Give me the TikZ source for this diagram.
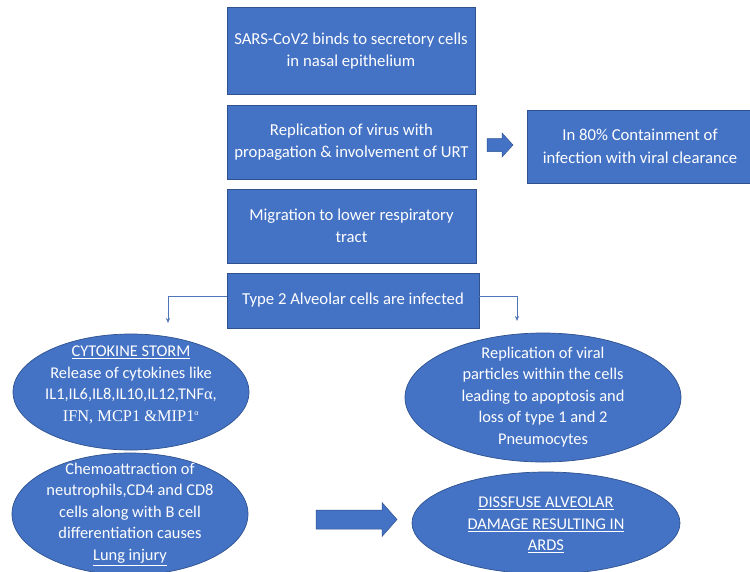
\documentclass[tikz,border=0pt]{standalone}
\usepackage{fontspec}
\setmainfont{Carlito}
\newfontfamily\tms{Liberation Serif}
\usetikzlibrary{arrows.meta,shapes.geometric}
\definecolor{ofblue}{HTML}{4472C4}
\definecolor{ofedge}{HTML}{2F528F}
\begin{document}
\begin{tikzpicture}[x=1pt,y=-1pt,
  boxst/.style={draw=ofedge,line width=0.7pt,fill=ofblue,text=white,inner sep=0pt,align=center,font=\fontsize{16.7}{22.5}\selectfont},
  ellst/.style={ellipse,draw=ofedge,line width=0.7pt,fill=ofblue,inner sep=0pt},
  txtst/.style={text=white,align=center,inner sep=0pt,font=\fontsize{16.4}{21.6}\selectfont},
  conn/.style={draw=ofblue!80!gray,line width=0.6pt,-{Stealth[length=5pt,width=4pt]}},
  fatarrow/.style={fill=ofblue,draw=ofedge,line width=0.5pt}]
\useasboundingbox[fill=white] (0,0) rectangle (750,571);
% boxes
\node[boxst,minimum width=248pt,minimum height=87pt] (b1) at (351,51) {SARS-CoV2 binds to secretory cells\\in nasal epithelium};
\node[boxst,minimum width=249pt,minimum height=74pt] (b2) at (351.5,142) {Replication of virus with\\propagation \& involvement of URT};
\node[boxst,minimum width=249pt,minimum height=74pt] (b3) at (351.5,226) {Migration to lower respiratory\\tract};
\node[boxst,minimum width=252pt,minimum height=55pt] (b4) at (353,300.5) {Type 2 Alveolar cells are infected};
\node[boxst,minimum width=226pt,minimum height=73pt] (b5) at (640,146.5) {In 80\% Containment of\\infection with viral clearance};
% small fat arrow
\coordinate (sa) at (487,145);
\path[fatarrow] (sa) ++(0,-6.5) -- ++(15,0) -- ++(0,-5.5) -- ++(11,12) -- ++(-11,12) -- ++(0,-5.5) -- ++(-15,0) -- cycle;
% ellipses
\node[ellst,minimum width=236pt,minimum height=116pt] (e1) at (131,392) {};
\node[txtst] (t1) at (131,385) {\underline{CYTOKINE STORM}\\Release of cytokines like\\IL1,IL6,IL8,IL10,IL12,TNF{\tms α},\\{\tms IFN, MCP1 \&MIP1\textsuperscript{\footnotesize α}}};
\node[ellst,minimum width=276pt,minimum height=129pt] (e3) at (543,397.5) {};
\node[txtst] (t3) at (543,397) {Replication of viral\\particles within the cells\\leading to apoptosis and\\loss of type 1 and 2\\Pneumocytes};
\node[ellst,minimum width=236pt,minimum height=122pt] (e2) at (130,514) {};
\node[txtst] (t2) at (130,514) {Chemoattraction of\\neutrophils,CD4 and CD8\\cells along with B cell\\differentiation causes\\\underline{Lung injury}};
\node[ellst,minimum width=268pt,minimum height=102pt] (e4) at (546,523) {};
\node[txtst] (t4) at (546,525) {\underline{DISSFUSE ALVEOLAR}\\\underline{DAMAGE RESULTING IN}\\\underline{ARDS}};
% big fat arrow
\coordinate (ba) at (316,519.5);
\path[fatarrow] (ba) ++(0,-9.5) -- ++(66,0) -- ++(0,-7.5) -- ++(15,17) -- ++(-15,17) -- ++(0,-7.5) -- ++(-66,0) -- cycle;
% connectors
\coordinate (l1) at (168,296);
\coordinate (l2) at (168,323);
\coordinate (r1) at (517,296);
\coordinate (r2) at (517,321);
\draw[conn] (b4.west|-l1) -- (l1) -- (l2);
\draw[conn] (b4.east|-r1) -- (r1) -- (r2);
\end{tikzpicture}
\end{document}
